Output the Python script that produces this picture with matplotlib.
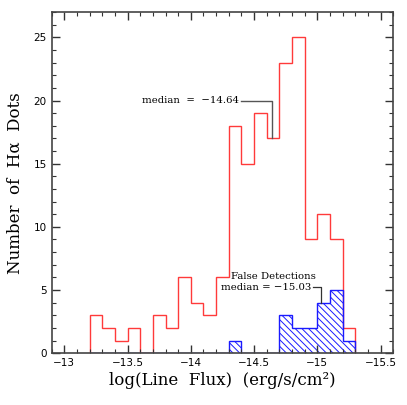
import numpy as np
import matplotlib
matplotlib.use("Agg")
import matplotlib.pyplot as plt
from matplotlib.ticker import MultipleLocator

bin_edges = [-13.2, -13.3, -13.4, -13.5, -13.6, -13.7, -13.8, -13.9, -14.0, -14.1, -14.2,
             -14.3, -14.4, -14.5, -14.6, -14.7, -14.8, -14.9, -15.0, -15.1, -15.2, -15.3]
all_counts = [3, 2, 1, 2, 0, 3, 2, 6, 4, 3, 6,
              18, 15, 19, 17, 23, 25, 9, 11, 9, 2]
false_counts = [0, 0, 0, 0, 0, 0, 0, 0, 0, 0, 0,
                1, 0, 0, 0, 3, 2, 2, 4, 5, 1]
median_all = -14.64
median_false = -15.03
xticks = [-13, -13.5, -14, -14.5, -15, -15.5]
xticklabels = ["\u221213", "\u221213.5", "\u221214", "\u221214.5", "\u221215", "\u221215.5"]

plt.rcParams['hatch.linewidth'] = 0.7
fig = plt.figure(figsize=(4.07, 4.05), dpi=100)
ax = fig.add_axes([0.127, 0.128, 0.839, 0.842])

red = '#ff3a3a'
blue = '#1a1aff'
ax.stairs(all_counts, bin_edges, color=red, lw=1.0, baseline=0)
ax.stairs(false_counts, bin_edges, fill=True, facecolor='none', edgecolor=blue,
          hatch='\\' * 5, lw=1.0, baseline=0)

ax.set_xlim(-12.9, -15.6)
ax.set_ylim(0, 27)

# median annotations
serif = ['DejaVu Serif']
ax.plot([-14.40, median_all, median_all], [20, 20, all_counts[14]], color='#555555', lw=1.0)
ax.text(-14.38, 20, "median  =  \u221214.64", ha='right', va='center', fontsize=7.3, family=serif)
ax.plot([-14.97, median_false, median_false], [5.2, 5.2, false_counts[18]], color='#333333', lw=0.9)
ax.text(-14.955, 5.2, "median = \u221215.03", ha='right', va='center', fontsize=7.3, family=serif)
ax.text(-14.65, 6.1, "False Detections", ha='center', va='center', fontsize=7.3, family=serif)

ax.set_xticks(xticks)
ax.set_xticklabels(xticklabels)
ax.xaxis.set_minor_locator(MultipleLocator(0.1))
ax.yaxis.set_major_locator(MultipleLocator(5))
ax.yaxis.set_minor_locator(MultipleLocator(1))
ax.tick_params(which='both', direction='in', top=True, right=True, colors='#333333',
               labelcolor='black', labelsize=7.5)
ax.tick_params(which='major', length=6, width=1.0)
ax.tick_params(which='minor', length=3, width=0.8)
for s in ax.spines.values():
    s.set_color('#444444')
    s.set_linewidth(1.2)

ax.set_xlabel("log(Line  Flux)  (erg/s/cm\u00b2)", family=serif, fontsize=12, labelpad=3)
ax.set_ylabel("Number  of  H\u03b1  Dots", family=serif, fontsize=12, labelpad=7)

fig.savefig("out.png", dpi=100)
